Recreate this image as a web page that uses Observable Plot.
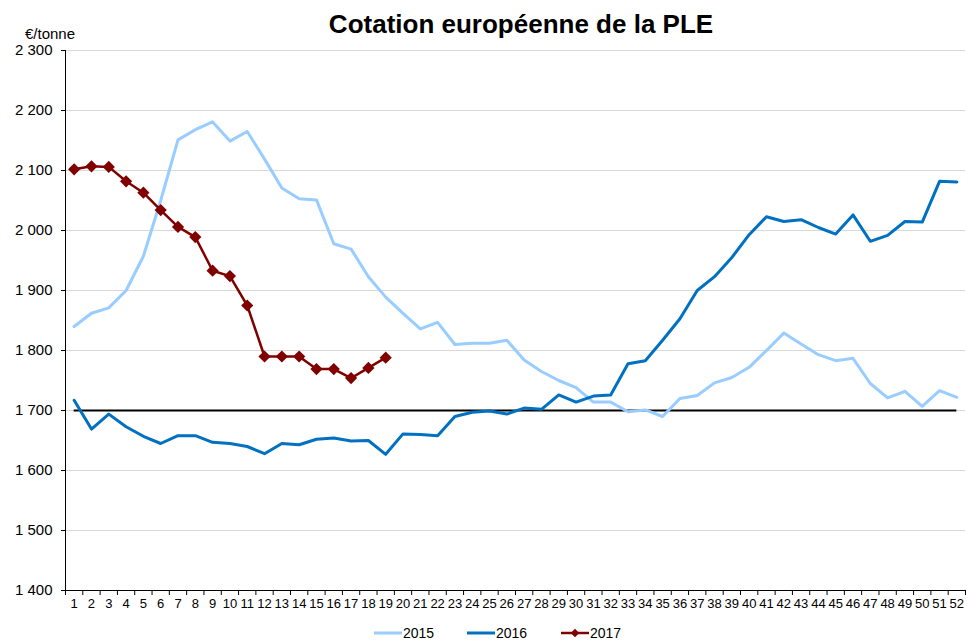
<!DOCTYPE html>
<html>
<head>
<meta charset="utf-8">
<script src="https://cdn.jsdelivr.net/npm/d3@7"></script>
<script src="https://cdn.jsdelivr.net/npm/@observablehq/plot@0.6"></script>
<style>
  body { margin: 0; background: #fff; }
  #wrap { position: relative; width: 967px; height: 641px; font-family: Arial, "Liberation Sans", sans-serif; }
  #title { position: absolute; left: 71px; width: 900px; top: 11px; line-height: 26px; text-align: center; font-weight: bold; font-size: 26px; color: #000; }
  #unit { position: absolute; left: 25px; top: 26px; line-height: 15px; font-size: 15px; color: #000; }
  #legend { position: absolute; top: 625px; left: 0; width: 967px; height: 16px; }
  #legend svg { overflow: visible; }
</style>
</head>
<body>
<div id="wrap">
  <div id="chart"></div>
  <div id="title">Cotation européenne de la PLE</div>
  <div id="unit">€/tonne</div>
  <div id="legend"></div>
</div>
<script>
const weeks = [1,2,3,4,5,6,7,8,9,10,11,12,13,14,15,16,17,18,19,20,21,22,23,24,25,26,
               27,28,29,30,31,32,33,34,35,36,37,38,39,40,41,42,43,44,45,46,47,48,49,50,51,52];
const v2015 = [1840,1862,1871,1900,1957,2050,2151,2168,2181,2149,2165,2119,2071,2053,2051,1978,1969,1923,1889,1862,
               1836,1847,1810,1812,1812,1817,1784,1765,1750,1738,1714,1714,1698,1701,1690,1720,1725,1746,1755,1772,
               1800,1829,1811,1793,1783,1787,1745,1721,1732,1707,1733,1722];
const v2016 = [1717,1669,1694,1673,1657,1645,1658,1658,1647,1645,1640,1628,1645,1643,1652,1654,1649,1650,1627,1661,
               1660,1658,1690,1697,1699,1694,1704,1702,1726,1714,1724,1726,1778,1783,1817,1853,1900,1923,1955,1993,
               2023,2015,2018,2005,1994,2026,1982,1992,2015,2014,2082,2081];
const v2017 = [2102,2107,2106,2082,2063,2034,2006,1989,1933,1924,1875,1790,1790,1790,1769,1769,1754,1771,1788];
const yTicks = [1400,1500,1600,1700,1800,1900,2000,2100,2200,2300];
const refValue = 1700;
const seriesNames = ["2015","2016","2017"];
const colors = {"2015": "#99ccff", "2016": "#0070c0", "2017": "#800000"};

const rows = [];
[v2015, v2016, v2017].forEach((arr, si) => {
  arr.forEach((v, i) => rows.push({week: weeks[i], value: v, year: seriesNames[si]}));
});
const edges = [0.5, ...weeks.map(w => w + 0.5)];
const fmt = d => d3.format(",")(d).replace(",", " ");

const chart = Plot.plot({
  width: 967, height: 641,
  marginTop: 50, marginBottom: 51, marginLeft: 65, marginRight: 2,
  style: {fontFamily: "Arial, 'Liberation Sans', sans-serif", fontSize: "13px", background: "transparent"},
  x: {type: "linear", domain: [0.5, 52.5]},
  y: {domain: [1400, 2300]},
  marks: [
    Plot.gridY(yTicks, {stroke: "#d9d9d9", strokeOpacity: 1, strokeWidth: 1}),
    Plot.axisY(yTicks, {tickSize: 4, tickPadding: 9, tickFormat: fmt, label: null, fontSize: 15}),
    Plot.axisX(edges, {tickSize: 5, tickFormat: () => "", label: null}),
    Plot.axisX(weeks, {tickSize: 0, tickPadding: 8, label: null, tickFormat: d => String(d), fontSize: 13}),
    Plot.ruleX([0.5], {stroke: "#000", strokeWidth: 1}),
    Plot.ruleY([1400], {stroke: "#000", strokeWidth: 1}),
    Plot.ruleY([refValue], {x1: weeks[0], x2: weeks[weeks.length - 1], stroke: "#000", strokeWidth: 2}),
    Plot.line(rows.filter(d => d.year === "2015"), {x: "week", y: "value", stroke: colors["2015"], strokeWidth: 3}),
    Plot.line(rows.filter(d => d.year === "2016"), {x: "week", y: "value", stroke: colors["2016"], strokeWidth: 3}),
    Plot.line(rows.filter(d => d.year === "2017"), {x: "week", y: "value", stroke: colors["2017"], strokeWidth: 2.5}),
    Plot.dot(rows.filter(d => d.year === "2017"), {x: "week", y: "value", symbol: "diamond2", fill: colors["2017"], stroke: "none", r: 5.5})
  ]
});
document.getElementById("chart").appendChild(chart);

// Legend
const legendItems = [
  {name: "2015", x: 374},
  {name: "2016", x: 467},
  {name: "2017", x: 561}
];
const lg = d3.select("#legend").append("svg").attr("width", 967).attr("height", 16);
legendItems.forEach(it => {
  const g = lg.append("g").attr("transform", `translate(${it.x},8)`);
  g.append("line").attr("x1", 0).attr("x2", 28).attr("y1", 0).attr("y2", 0)
    .attr("stroke", colors[it.name]).attr("stroke-width", it.name === "2017" ? 2.5 : 3);
  if (it.name === "2017") {
    g.append("path").attr("d", d3.symbol(d3.symbolDiamond2, 45)()).attr("transform", "translate(14,0)")
      .attr("fill", colors[it.name]);
  }
  g.append("text").attr("x", 29).attr("y", 0).attr("dy", "0.35em")
    .attr("font-family", "Arial, 'Liberation Sans', sans-serif").attr("font-size", 14)
    .text(it.name);
});
</script>
</body>
</html>
